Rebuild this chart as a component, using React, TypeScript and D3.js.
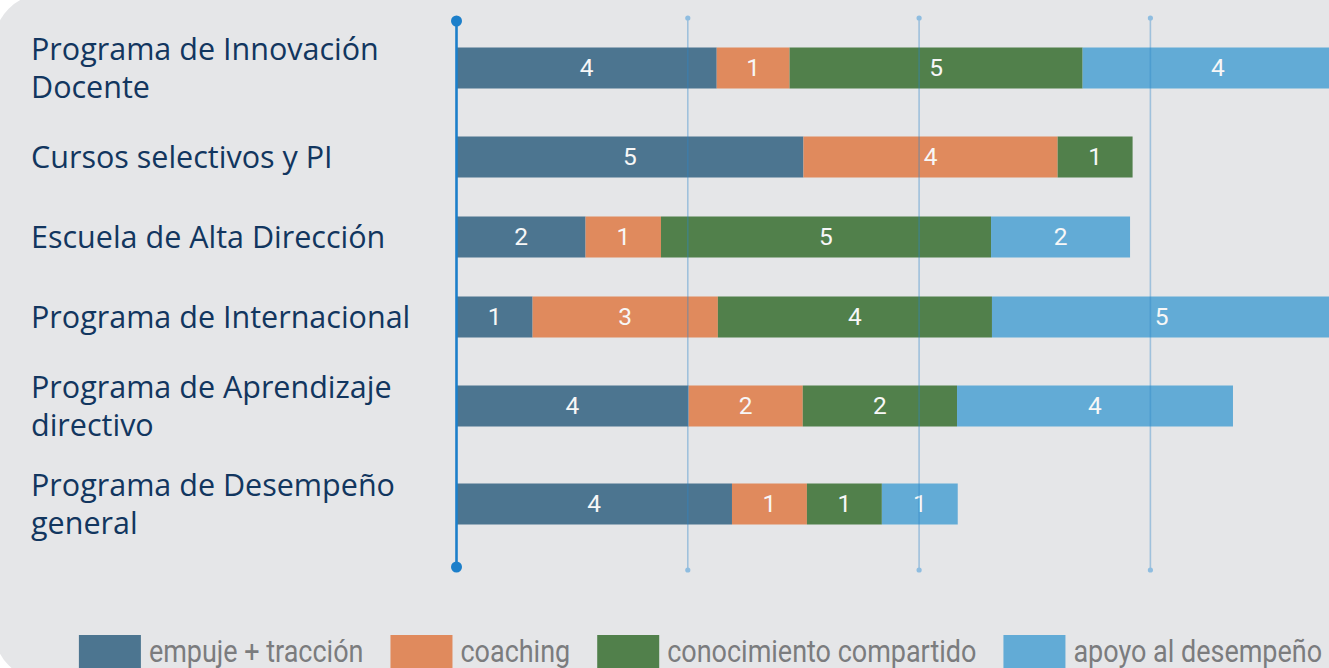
import React, { useEffect, useRef } from "react";
import * as d3 from "d3";

// ---------- data ----------
const categories = [
  "Programa de Innovación Docente",
  "Cursos selectivos y PI",
  "Escuela de Alta Dirección",
  "Programa de Internacional",
  "Programa de Aprendizaje directivo",
  "Programa de Desempeño general",
];
const categoryLines = [
  ["Programa de Innovación", "Docente"],
  ["Cursos selectivos y PI"],
  ["Escuela de Alta Dirección"],
  ["Programa de Internacional"],
  ["Programa de Aprendizaje", "directivo"],
  ["Programa de Desempeño", "general"],
];
const seriesKeys = ["empuje", "coaching", "conocimiento", "apoyo"];
const seriesNames = ["empuje + tracción", "coaching", "conocimiento compartido", "apoyo al desempeño"];
const seriesColors = ["#4c7590", "#e08a5d", "#51804b", "#62abd6"];

// segment lengths in axis units (gridlines every 10 units)
const empujeValues = [11.25, 15.0, 5.58, 3.29, 10.03, 11.91];
const coachingValues = [3.15, 10.99, 3.26, 8.01, 4.94, 3.24];
const conocimientoValues = [12.67, 3.24, 14.27, 11.85, 6.67, 3.24];
const apoyoValues = [11.7, 0, 6.01, 14.68, 11.93, 3.28];

// numbers printed inside the segments
const empujeLabels = [4, 5, 2, 1, 4, 4];
const coachingLabels = [1, 4, 1, 3, 2, 1];
const conocimientoLabels = [5, 1, 5, 4, 2, 1];
const apoyoLabels: (number | null)[] = [4, null, 2, 5, 4, 1];

const xTicks = [0, 10, 20, 30];
const xDomain = [0, 40];

export default function App() {
  const ref = useRef<SVGSVGElement>(null);

  useEffect(() => {
    const W = 1329;
    const H = 668;
    const svg = d3.select(ref.current);
    svg.selectAll("*").remove();

    // background + card
    svg.append("rect").attr("width", W).attr("height", H).attr("fill", "#ffffff");
    svg
      .append("rect")
      .attr("x", -6)
      .attr("y", -6)
      .attr("width", W + 80)
      .attr("height", H + 18)
      .attr("rx", 50)
      .attr("fill", "#e5e6e8");

    // scales
    const x = d3.scaleLinear().domain(xDomain).range([456.5, 456.5 + 925.2]);
    const rowsTop = 19;
    const singleRow = 80;
    const doubleRow = 98;
    const rowHeights = categoryLines.map((l) => (l.length > 1 ? doubleRow : singleRow));
    const cum = Array.from(d3.cumsum(rowHeights));
    const rowStart = rowHeights.map((_, i) => rowsTop + (i === 0 ? 0 : cum[i - 1]));
    const rowCenter = rowHeights.map((h, i) => rowStart[i] + h / 2);
    const rowsBottom = rowsTop + cum[cum.length - 1];
    const barH = 41;

    const table = categories.map((c, i) => ({
      category: c,
      empuje: empujeValues[i],
      coaching: coachingValues[i],
      conocimiento: conocimientoValues[i],
      apoyo: apoyoValues[i],
    }));
    const labels = [empujeLabels, coachingLabels, conocimientoLabels, apoyoLabels];
    const stacked = d3.stack<any>().keys(seriesKeys)(table);

    // bars
    const gBars = svg.append("g");
    stacked.forEach((series, si) => {
      series.forEach((d, i) => {
        const w = x(d[1]) - x(d[0]);
        if (w <= 0) return;
        gBars
          .append("rect")
          .attr("x", x(d[0]))
          .attr("y", rowCenter[i] - barH / 2)
          .attr("width", w)
          .attr("height", barH)
          .attr("fill", seriesColors[si]);
        const lab = labels[si][i];
        if (lab !== null && lab !== undefined) {
          gBars
            .append("text")
            .attr("x", (x(d[0]) + x(d[1])) / 2)
            .attr("y", rowCenter[i] + 7.5)
            .attr("text-anchor", "middle")
            .attr("font-family", "Roboto, 'Open Sans', sans-serif")
            .attr("font-size", 24.5)
            .attr("fill", "#f7f7f7")
            .text(String(lab));
        }
      });
    });

    // gridlines (drawn over bars, translucent)
    const gGrid = svg.append("g");
    xTicks
      .filter((t) => t !== 0)
      .forEach((t) => {
        gGrid
          .append("line")
          .attr("x1", x(t))
          .attr("x2", x(t))
          .attr("y1", rowsTop - 1)
          .attr("y2", rowsBottom + 17)
          .attr("stroke", "#2e87c9")
          .attr("stroke-opacity", 0.38)
          .attr("stroke-width", 1.6);
        [rowsTop - 1, rowsBottom + 17].forEach((cy) =>
          gGrid.append("circle").attr("cx", x(t)).attr("cy", cy).attr("r", 2.6).attr("fill", "#8fbde0")
        );
      });

    // main axis
    svg
      .append("line")
      .attr("x1", x(0))
      .attr("x2", x(0))
      .attr("y1", rowsTop + 2)
      .attr("y2", rowsBottom + 14)
      .attr("stroke", "#1c7fca")
      .attr("stroke-width", 2.6);
    [rowsTop + 2, rowsBottom + 14].forEach((cy) =>
      svg.append("circle").attr("cx", x(0)).attr("cy", cy).attr("r", 5.5).attr("fill", "#1c7fca")
    );

    // category labels
    const lineH = 38.7;
    const gLab = svg.append("g");
    categoryLines.forEach((lines, i) => {
      lines.forEach((ln, j) => {
        gLab
          .append("text")
          .attr("x", 31)
          .attr("y", rowCenter[i] + 11 + (j - (lines.length - 1) / 2) * lineH)
          .attr("font-family", "'Open Sans', 'Noto Sans', sans-serif")
          .attr("font-size", 30.5)
          .attr("fill", "#12365f")
          .text(ln);
      });
    });

    // legend
    const sw = 62;
    const swH = 40;
    const gapText = 8;
    const gapItem = 27;
    const condense = 0.87;
    const legendTop = 635;
    const gLeg = svg.append("g");
    const items = seriesNames.map((name, i) => {
      const g = gLeg.append("g");
      g.append("rect").attr("width", sw).attr("height", swH).attr("fill", seriesColors[i]);
      const t = g
        .append("text")
        .attr("x", 0)
        .attr("y", 27)
        .attr("font-family", "Roboto, 'Open Sans', sans-serif")
        .attr("font-size", 31)
        .attr("fill", "#7b7c7e")
        .text(name);
      const tw = (t.node() as SVGTextElement).getComputedTextLength() * condense;
      t.attr("transform", `translate(${sw + gapText},0) scale(${condense},1)`);
      return { g, w: sw + gapText + tw };
    });
    const total = d3.sum(items, (d) => d.w) + gapItem * (items.length - 1);
    let cx = 700.5 - total / 2;
    items.forEach((it) => {
      it.g.attr("transform", `translate(${cx},${legendTop})`);
      cx += it.w + gapItem;
    });
  }, []);

  return (
    <svg
      ref={ref}
      width={1329}
      height={668}
      style={{ position: "absolute", left: 0, top: 0, display: "block" }}
    />
  );
}
